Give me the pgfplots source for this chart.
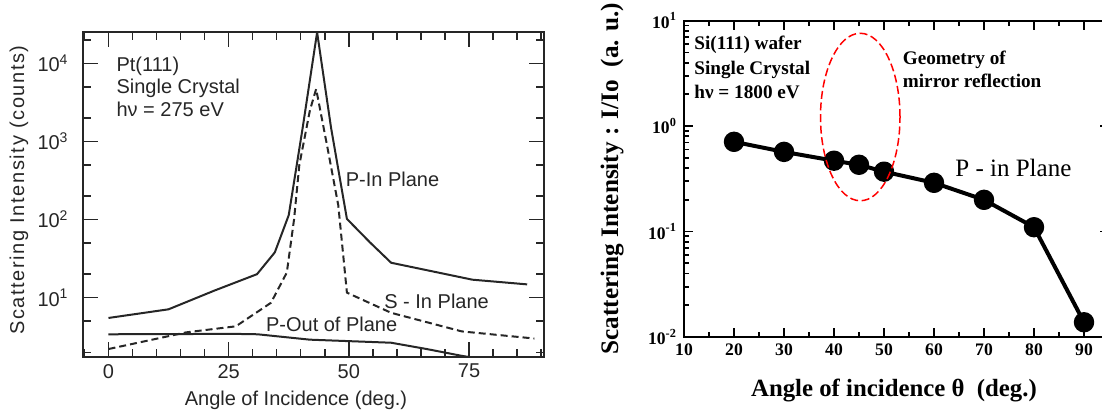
\documentclass[border=0pt]{standalone}
\usepackage{fontspec}
\setmainfont{Liberation Serif}
\newfontfamily\lsans{Liberation Sans}
\newfontfamily\lsansW[LetterSpace=8]{Liberation Sans}
\usepackage{pgfplots}
\pgfplotsset{compat=1.18}
\usetikzlibrary{calc}

\begin{document}
\begin{tikzpicture}[x=1pt,y=1pt]
\useasboundingbox (0,0) rectangle (551,208.5);

% ---------------- left panel ----------------
\begin{axis}[
  at={(41.5pt,30pt)}, anchor=south west,
  scale only axis, width=230.5pt, height=162.35pt,
  ymode=log,
  xmin=-5.3, xmax=90.6, ymin=1.74, ymax=25000,
  xtick={0,25,50,75},
  minor xtick={-5,5,10,15,20,30,35,40,45,55,60,65,70,80,85,90},
  ytick={10,100,1000,10000},
  yticklabels={10\textsuperscript{1},10\textsuperscript{2},10\textsuperscript{3},10\textsuperscript{4}},
  minor ytick={2,5,20,50,200,500,2000,5000,20000},
  /pgf/number format/assume math mode=true,
  tick align=inside, xtick pos=both, ytick pos=both,
  major tick length=7.5pt, minor tick length=4pt,
  axis line style={line width=0.8pt, black!85},
  tick style={line width=0.7pt, black!85},
  ticklabel style={font=\lsans\fontsize{10}{11}\selectfont, text=black!85},
  yticklabel style={xshift=-3.7pt},
  xlabel={Angle of Incidence (deg.)},
  ylabel={Scattering Intensity (counts)},
  xlabel style={at={(axis description cs:0.462,-0.132)}, anchor=center, font=\lsans\fontsize{10}{11}\selectfont, text=black!85},
  ylabel style={at={(axis description cs:-0.139,0.514)}, anchor=center, font=\lsansW\fontsize{10}{11}\selectfont, text=black!85},
  clip=false,
]
% P-In Plane
\addplot[line width=1pt, black!85, line join=round] coordinates {
 (0,5.5) (12.5,7.1) (22,12.3) (30.9,20) (34.6,38) (37.5,114) (40.4,1500) (43.4,25000)
 (46.3,1500) (49.6,102) (54.4,51) (58.8,28) (75.7,17) (87.1,14.8)
};
% S-In Plane
\addplot[line width=1pt, black!85, line join=round, dash pattern=on 3.5pt off 2pt] coordinates {
 (0,2.2) (16.2,3.6) (26.5,4.3) (33.8,8.6) (37.1,21) (38.6,100) (39.7,500) (41.9,2500) (43.2,4700)
 (45.6,806) (47.8,153) (49.6,11.6) (58.8,6.4) (73.5,3.7) (88.6,3.0)
};
% P-Out of Plane
\addplot[line width=1pt, black!85, line join=round] coordinates {
 (0,3.4) (15,3.42) (25,3.45) (31,3.4) (41.9,2.9) (58.8,2.65) (66.2,2.2) (73.5,1.8) (75,1.74)
};
\node[anchor=base west, font=\lsans\fontsize{10}{11}\selectfont, text=black!85, inner sep=0pt] at (axis cs:1.6,7850) {Pt(111)};
\node[anchor=base west, font=\lsans\fontsize{10}{11}\selectfont, text=black!85, inner sep=0pt] at (axis cs:1.6,4070) {Single Crystal};
\node[anchor=base west, font=\lsans\fontsize{10}{11}\selectfont, text=black!85, inner sep=0pt] at (axis cs:1.6,2085) {hν = 275 eV};
\node[anchor=base west, font=\lsans\fontsize{10}{11}\selectfont, text=black!85, inner sep=0pt] at (axis cs:49.3,265) {P-In Plane};
\node[anchor=base west, font=\lsans\fontsize{10}{11}\selectfont, text=black!85, inner sep=0pt] at (axis cs:57.3,7.3) {S - In Plane};
\node[anchor=base west, font=\lsans\fontsize{10}{11}\selectfont, text=black!85, inner sep=0pt] at (axis cs:32.7,3.69) {P-Out of Plane};
\end{axis}

% ---------------- right panel ----------------
\begin{axis}[
  at={(342pt,40pt)}, anchor=south west,
  scale only axis, width=212.5pt, height=158.15pt,
  ymode=log,
  xmin=10, xmax=95, ymin=0.01, ymax=10,
  xtick={10,20,...,90},
  minor xtick={15,25,...,95},
  ytick={0.01,0.1,1,10},
  yticklabels={10\textsuperscript{-2},10\textsuperscript{-1},10\textsuperscript{0},10\textsuperscript{1}},
  /pgf/number format/assume math mode=true,
  tick align=inside, xtick pos=both, ytick pos=both,
  major tick length=4.5pt, minor tick length=2.5pt,
  axis line style={line width=1.1pt, black},
  tick style={line width=0.9pt, black},
  ticklabel style={font=\fontsize{8.8}{9}\selectfont\bfseries},
  xlabel={Angle of incidence θ\ \ (deg.)},
  ylabel={Scattering Intensity : I/Io\ \ (a. u.)},
  xlabel style={at={(axis description cs:0.494,-0.168)}, anchor=center, font=\fontsize{12.4}{13}\selectfont\bfseries},
  ylabel style={at={(axis description cs:-0.169,0.501)}, anchor=center, font=\fontsize{12.6}{13}\selectfont\bfseries},
  clip=false,
]
\addplot[line width=2pt, black, line join=round, mark=*, mark size=4.1pt, mark options={fill=black}] coordinates {
 (20,0.71) (30,0.57) (40,0.47) (45,0.43) (50,0.37) (60,0.29) (70,0.20) (80,0.11) (90,0.0138)
};
\coordinate (EL) at (axis cs:37.3,1);
\coordinate (ER) at (axis cs:53.2,1);
\coordinate (EB) at (axis cs:45,0.196);
\coordinate (ET) at (axis cs:45,7.6);
\node[anchor=base west, font=\fontsize{9.6}{10}\selectfont\bfseries, inner sep=0pt] at (axis cs:12,5.37) {Si(111) wafer};
\node[anchor=base west, font=\fontsize{9.6}{10}\selectfont\bfseries, inner sep=0pt] at (axis cs:12,3.12) {Single Crystal};
\node[anchor=base west, font=\fontsize{9.6}{10}\selectfont\bfseries, inner sep=0pt] at (axis cs:12,1.81) {hν = 1800 eV};
\node[anchor=base west, font=\fontsize{9.6}{10}\selectfont\bfseries, inner sep=0pt] at (axis cs:53.7,3.88) {Geometry of};
\node[anchor=base west, font=\fontsize{9.6}{10}\selectfont\bfseries, inner sep=0pt] at (axis cs:53.7,2.33) {mirror reflection};
\node[anchor=base west, font=\fontsize{12.5}{13}\selectfont, inner sep=0pt] at (axis cs:64.2,0.332) {P - in Plane};
\end{axis}
\draw[red, line width=0.75pt, dash pattern=on 4pt off 1.8pt]
  let \p1=(EL), \p2=(ER), \p3=(EB), \p4=(ET) in
  ({(\x1+\x2)/2},{(\y3+\y4)/2}) ellipse [x radius={(\x2-\x1)/2}, y radius={(\y4-\y3)/2}];
\end{tikzpicture}
\end{document}
